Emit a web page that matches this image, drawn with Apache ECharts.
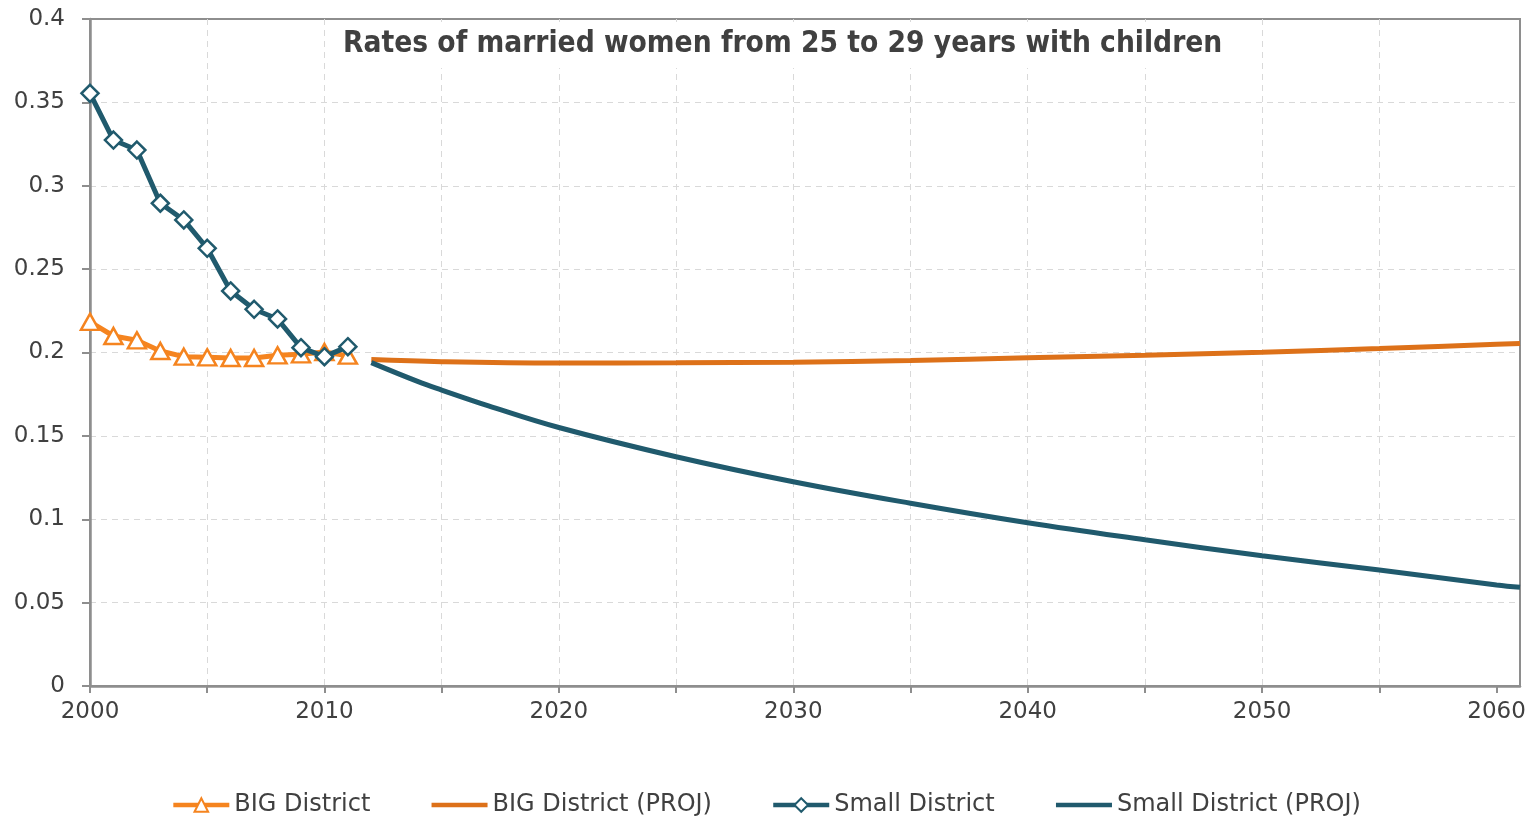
<!DOCTYPE html>
<html>
<head>
<meta charset="utf-8">
<title>Rates of married women from 25 to 29 years with children</title>
<script src="https://cdn.jsdelivr.net/npm/echarts@6/dist/echarts.min.js"></script>
<style>
  html, body { margin: 0; padding: 0; background: #fff; }
  #chart { width: 1532px; height: 819px; }
</style>
</head>
<body>
<div id="chart"></div>
<script>
// Observed years and rates
const histYears = [2000, 2001, 2002, 2003, 2004, 2005, 2006, 2007, 2008, 2009, 2010, 2011];
const bigDistrict = [0.2184, 0.2099, 0.2073, 0.2009, 0.1975, 0.1971, 0.1967, 0.1967, 0.1983, 0.1989, 0.2003, 0.1981];
const smallDistrict = [0.3554, 0.3274, 0.3214, 0.2895, 0.2795, 0.2625, 0.2369, 0.2259, 0.2201, 0.2029, 0.1975, 0.2035];

// Projected rates (sampled years)
const bigProjYears = [2012, 2015, 2020, 2025, 2030, 2035, 2040, 2045, 2050, 2055, 2060, 2061];
const bigProj = [0.1958, 0.1945, 0.1937, 0.1938, 0.1942, 0.1952, 0.1968, 0.1984, 0.2002, 0.2024, 0.2049, 0.2054];
const smallProjYears = [2012, 2014, 2015, 2017, 2020, 2025, 2030, 2035, 2040, 2045, 2050, 2055, 2060, 2061];
const smallProj = [0.1939, 0.1825, 0.1775, 0.1680, 0.1550, 0.1375, 0.1225, 0.1096, 0.0979, 0.0877, 0.0781, 0.0696, 0.0606, 0.0592];

const xTicks = [2000, 2005, 2010, 2015, 2020, 2025, 2030, 2035, 2040, 2045, 2050, 2055, 2060];
const xLabels = [2000, 2010, 2020, 2030, 2040, 2050, 2060];

const ORANGE = '#F5841F';
const ORANGE_DARK = '#DD7119';
const TEAL = '#205A6D';
const TEXT = '#404040';
const AXIS = '#8E8E8E';
const GRIDLINE = '#D9D9D9';
const FONT = 'DejaVu Sans';

const pairs = (xs, ys) => xs.map((x, i) => [x, ys[i]]);

const chart = echarts.init(document.getElementById('chart'));
chart.setOption({
  animation: false,
  backgroundColor: '#fff',
  title: {
    text: 'Rates of married women from 25 to 29 years with children',
    left: 333,
    top: 22,
    padding: [7, 10, 9, 10],
    backgroundColor: '#fff',
    textStyle: { fontFamily: 'DejaVu Sans Condensed', fontWeight: 'bold', fontSize: 29.6, color: TEXT }
  },
  grid: {
    left: 90, right: 12, top: 19, bottom: 133,
    show: true, borderColor: AXIS, borderWidth: 2, backgroundColor: 'transparent'
  },
  legend: {
    bottom: -3,
    left: 'center',
    itemWidth: 56,
    itemHeight: 17,
    itemGap: 59,
    lineStyle: { width: 4.5 },
    textStyle: { fontFamily: FONT, fontSize: 24, color: TEXT },
    data: [
      { name: 'BIG District' },
      { name: 'BIG District (PROJ)', itemStyle: { opacity: 0 } },
      { name: 'Small District' },
      { name: 'Small District (PROJ)', itemStyle: { opacity: 0 } }
    ]
  },
  xAxis: {
    type: 'value',
    min: 2000, max: 2061, interval: 5,
    axisLine: { show: true, lineStyle: { color: AXIS, width: 2.5 } },
    axisTick: { show: true, length: 7, customValues: xTicks, lineStyle: { color: AXIS, width: 2 } },
    axisLabel: {
      customValues: xLabels,
      margin: 15,
      fontFamily: FONT, fontSize: 23, color: TEXT,
      formatter: v => String(v)
    },
    splitLine: { show: true, showMinLine: false, showMaxLine: false, lineStyle: { color: GRIDLINE, type: [6, 5], width: 1 } }
  },
  yAxis: {
    type: 'value',
    min: 0, max: 0.4, interval: 0.05,
    axisLine: { show: true, lineStyle: { color: AXIS, width: 2.5 } },
    axisTick: { show: true, length: 8, lineStyle: { color: AXIS, width: 2 } },
    axisLabel: {
      margin: 25, fontFamily: FONT, fontSize: 23, color: TEXT,
      formatter: v => String(+v.toFixed(2))
    },
    splitLine: { show: true, showMinLine: false, showMaxLine: false, lineStyle: { color: GRIDLINE, type: [6, 5], width: 1 } }
  },
  series: [
    {
      name: 'BIG District',
      type: 'line',
      data: pairs(histYears, bigDistrict),
      symbol: 'triangle',
      symbolSize: [18, 16],
      showAllSymbol: true,
      lineStyle: { color: ORANGE, width: 5 },
      itemStyle: { color: '#fff', borderColor: ORANGE, borderWidth: 2.5 },
      z: 2
    },
    {
      name: 'BIG District (PROJ)',
      type: 'line',
      data: pairs(bigProjYears, bigProj),
      smooth: 0.4,
      symbol: 'none',
      lineStyle: { color: ORANGE_DARK, width: 5 },
      itemStyle: { color: ORANGE_DARK },
      z: 3
    },
    {
      name: 'Small District',
      type: 'line',
      data: pairs(histYears, smallDistrict),
      symbol: 'diamond',
      symbolSize: 17,
      showAllSymbol: true,
      lineStyle: { color: TEAL, width: 5 },
      itemStyle: { color: '#fff', borderColor: TEAL, borderWidth: 2.5 },
      z: 4
    },
    {
      name: 'Small District (PROJ)',
      type: 'line',
      data: pairs(smallProjYears, smallProj),
      smooth: 0.4,
      symbol: 'none',
      lineStyle: { color: TEAL, width: 5 },
      itemStyle: { color: TEAL },
      z: 5
    }
  ]
});
</script>
</body>
</html>
